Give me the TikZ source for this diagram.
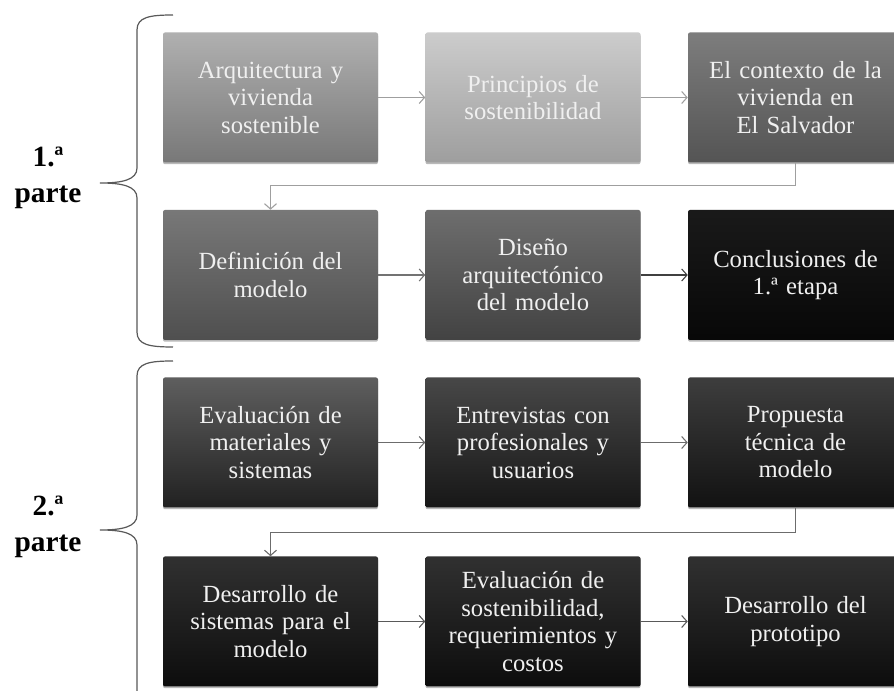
\documentclass[tikz,border=0pt]{standalone}
\usepackage{fontspec}
\setmainfont{Liberation Serif}
\usetikzlibrary{shadows, arrows.meta}

\definecolor{gArqA}{gray}{0.69}
\definecolor{gArqB}{gray}{0.47}
\definecolor{gPriA}{gray}{0.80}
\definecolor{gPriB}{gray}{0.62}
\definecolor{gConA}{gray}{0.49}
\definecolor{gConB}{gray}{0.33}
\definecolor{gDefA}{gray}{0.47}
\definecolor{gDefB}{gray}{0.31}
\definecolor{gDisA}{gray}{0.43}
\definecolor{gDisB}{gray}{0.26}
\definecolor{gCieA}{gray}{0.10}
\definecolor{gCieB}{gray}{0.03}
\definecolor{gEvaA}{gray}{0.37}
\definecolor{gEvaB}{gray}{0.13}
\definecolor{gEntA}{gray}{0.28}
\definecolor{gEntB}{gray}{0.09}
\definecolor{gProA}{gray}{0.24}
\definecolor{gProB}{gray}{0.07}
\definecolor{gFinA}{gray}{0.19}
\definecolor{gFinB}{gray}{0.05}

\tikzset{
  paso/.style={minimum width=161.25pt, minimum height=97.5pt, text width=156pt,
    align=center, inner sep=0pt, text=white!94!black,
    font=\fontsize{18.5}{20.6}\selectfont, rounded corners=1.5pt,
    drop shadow={shadow xshift=0pt, shadow yshift=-1.3pt, opacity=0.55}},
  flecha/.style={-{Straight Barb[length=4pt, width=9pt]}, line width=0.8pt},
  llave/.style={gray!70!black, line width=0.9pt},
  parte/.style={align=center, font=\fontsize{22}{27}\selectfont\bfseries}
}

\begin{document}
\begin{tikzpicture}[x=0.75pt, y=-0.75pt]
    \useasboundingbox[fill=white] (0,0) rectangle (894,691);
    \clip (0,0) rectangle (894,691);

    % Primera parte
    \node[paso, top color=gArqA, bottom color=gArqB] (arq) at (270.5,97.5)
        {Arquitectura y\\vivienda\\sostenible};
    \node[paso, top color=gPriA, bottom color=gPriB] (princ) at (533,97.5)
        {Principios de\\sostenibilidad};
    \node[paso, top color=gConA, bottom color=gConB] (contexto) at (795.5,97.5)
        {El contexto de la\\vivienda en\\El Salvador};

    \node[paso, top color=gDefA, bottom color=gDefB] (defin) at (270.5,275)
        {Definición del\\modelo};
    \node[paso, top color=gDisA, bottom color=gDisB] (diseno) at (533,275)
        {Diseño\\arquitectónico\\del modelo};
    \node[paso, top color=gCieA, bottom color=gCieB] (concl) at (795.5,275)
        {Conclusiones de\\1.ª etapa};

    % Segunda parte
    \node[paso, top color=gEvaA, bottom color=gEvaB] (evalmat) at (270.5,442.5)
        {Evaluación de\\materiales y\\sistemas};
    \node[paso, top color=gEntA, bottom color=gEntB] (entrev) at (533,442.5)
        {Entrevistas con\\profesionales y\\usuarios};
    \node[paso, top color=gProA, bottom color=gProB] (propuesta) at (795.5,442.5)
        {Propuesta\\técnica de\\modelo};

    \node[paso, top color=gFinA, bottom color=gFinB] (desarr) at (270.5,621.5)
        {Desarrollo de\\sistemas para el\\modelo};
    \node[paso, top color=gFinA, bottom color=gFinB] (evalsost) at (533,621.5)
        {Evaluación de\\sostenibilidad,\\requerimientos y\\costos};
    \node[paso, top color=gFinA, bottom color=gFinB] (prototipo) at (795.5,621.5)
        {Desarrollo del\\prototipo};

    % Conectores
    \draw[flecha, gray!75] (arq) -- (princ);
    \draw[flecha, gray!75] (princ) -- (contexto);
    \draw[flecha, gray!75] (contexto.south) -- ++(0,23) -| (defin.north);
    \draw[flecha, gray!90!black] (defin) -- (diseno);
    \draw[flecha, gray!50!black] (diseno) -- (concl);

    \draw[flecha, gray!85!black] (evalmat) -- (entrev);
    \draw[flecha, gray!85!black] (entrev) -- (propuesta);
    \draw[flecha, gray!85!black] (propuesta.south) -- ++(0,25) -| (desarr.north);
    \draw[flecha, gray!70!black] (desarr) -- (evalsost);
    \draw[flecha, gray!70!black] (evalsost) -- (prototipo);

    % Llaves
    \draw[llave] (173,15) .. controls (150,15) and (137,17) .. (137,30)
        -- (137,168) .. controls (137,180) and (122,183) .. (100,183)
        .. controls (122,183) and (137,186) .. (137,198)
        -- (137,332) .. controls (137,345) and (150,347) .. (173,347);
    \draw[llave] (173,361) .. controls (150,361) and (137,363) .. (137,376)
        -- (137,515) .. controls (137,527) and (122,530) .. (100,530)
        .. controls (122,530) and (137,533) .. (137,545)
        -- (137,700);

    \node[parte] (parte1) at (48,178) {1.ª\\parte};
    \node[parte] (parte2) at (48,527) {2.ª\\parte};
\end{tikzpicture}
\end{document}
